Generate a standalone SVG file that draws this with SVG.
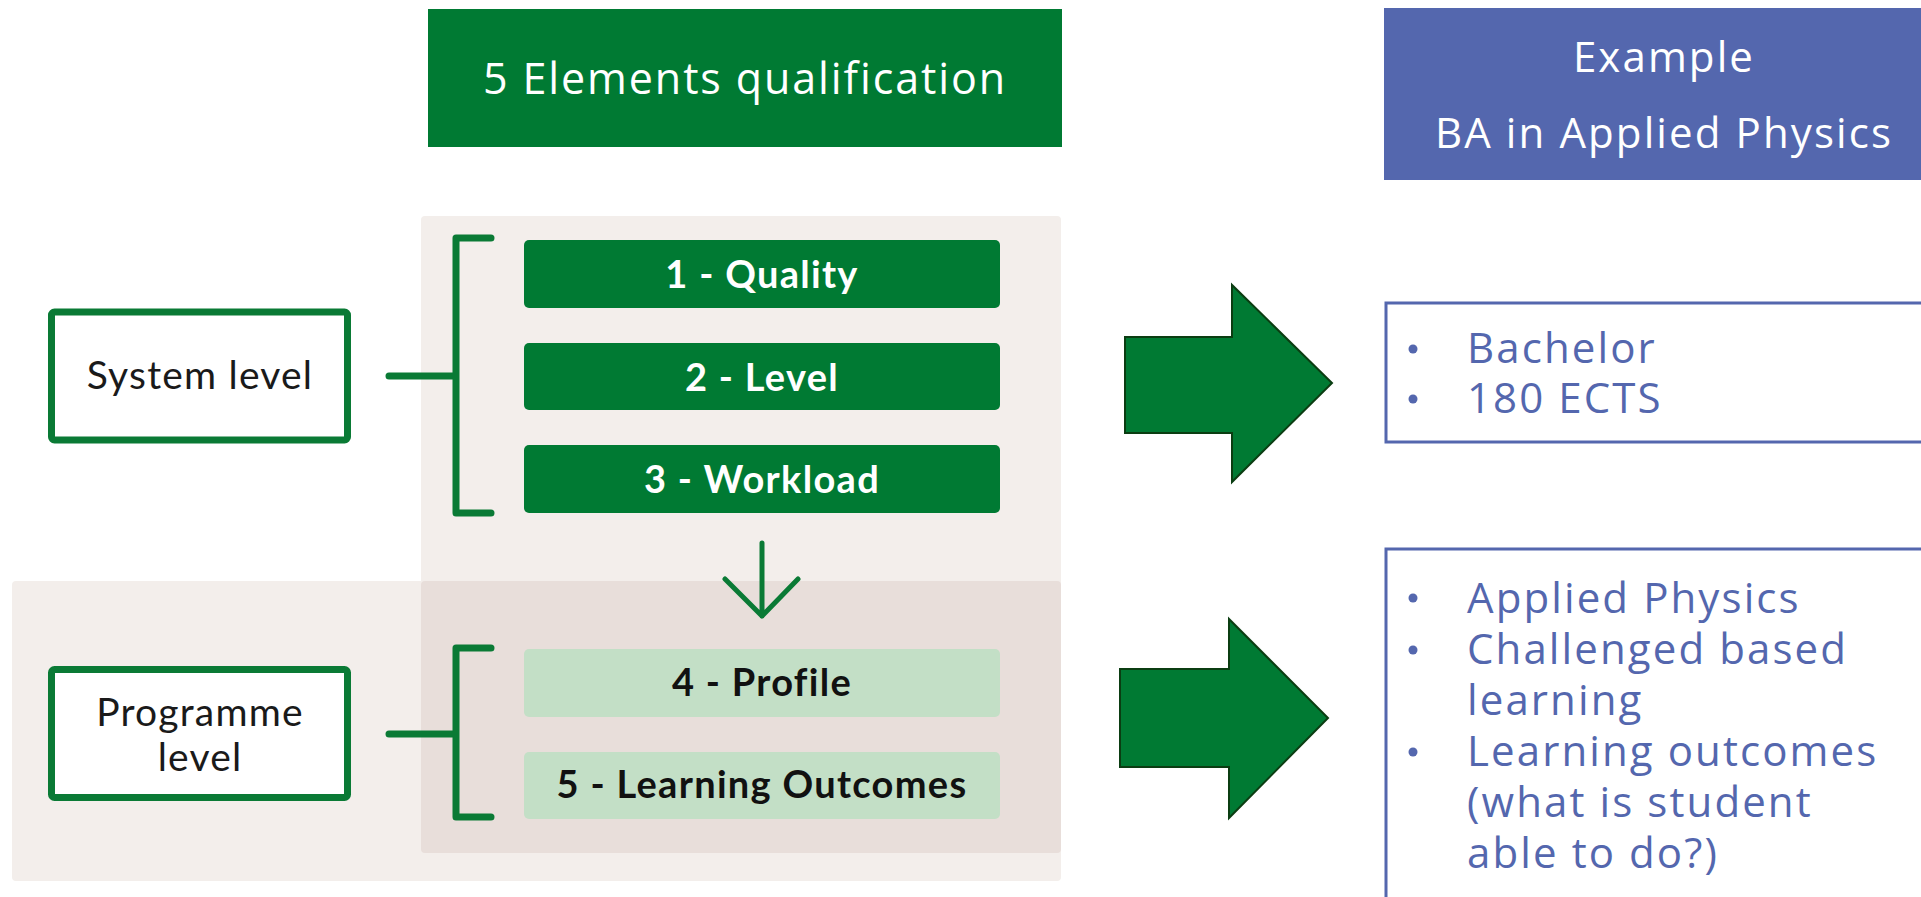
<svg xmlns="http://www.w3.org/2000/svg" width="1921" height="897" viewBox="0 0 1921 897">
  <style>
    .t { font-family: Lato, "Open Sans", "Liberation Sans", sans-serif; }
    .o { font-family: "Open Sans", Lato, "Liberation Sans", sans-serif; }
    .title { fill: #ffffff; font-size: 43px; text-anchor: middle; letter-spacing: 1.9px; }
    .dk { fill: #007A33; }
    .lt { fill: #C3DFC6; }
    .blab { font-size: 38px; font-weight: bold; text-anchor: middle; letter-spacing: 1.3px; }
    .lvl { fill: #1a1a1a; font-size: 39px; text-anchor: middle; letter-spacing: 1.2px; }
    .lvlbox { fill: #ffffff; stroke: #0A7A35; stroke-width: 7; }
    .brk { fill: none; stroke: #0A7A35; stroke-width: 7; stroke-linecap: round; stroke-linejoin: round; }
    .hd { fill: #ffffff; font-size: 42px; text-anchor: middle; letter-spacing: 2.1px; }
    .ex { fill: #5467AE; font-size: 42px; letter-spacing: 2.1px; }
    .exbox { fill: #ffffff; stroke: #5467AE; stroke-width: 3; }
    .bul { fill: #5467AE; }
    .garrow { fill: #007A33; stroke: #0b3d12; stroke-width: 2; }
  </style>

  <!-- background panels -->
  <g id="panels">
    <rect x="421" y="216" width="640" height="637" rx="4" fill="#F3EEEB"/>
    <rect x="12" y="581" width="1049" height="300" rx="4" fill="#F3EEEB"/>
    <rect x="421" y="581" width="640" height="272" rx="4" fill="#E8DEDA"/>
  </g>

  <g id="title">
    <rect x="428" y="9" width="634" height="138" class="dk"/>
    <text x="745" y="94" class="o title">5 Elements qualification</text>
  </g>

  <g id="example-header">
    <rect x="1384" y="8" width="537" height="172" fill="#5467AE"/>
    <text x="1664" y="72" class="o hd">Example</text>
    <text x="1664" y="148" class="o hd">BA in Applied Physics</text>
  </g>

  <g id="system-level">
    <rect x="51.5" y="312" width="296" height="128" rx="3" class="lvlbox"/>
    <text x="200" y="389" class="t lvl">System level</text>
  </g>

  <g id="programme-level">
    <rect x="51.5" y="669.5" width="296" height="128" rx="3" class="lvlbox"/>
    <text x="200" y="726" class="t lvl">Programme</text>
    <text x="200" y="771" class="t lvl">level</text>
  </g>

  <g id="q1">
    <rect x="524" y="240" width="476" height="68" rx="5" class="dk"/>
    <text x="762" y="288" class="t blab" fill="#ffffff">1 - Quality</text>
  </g>
  <g id="q2">
    <rect x="524" y="343" width="476" height="67" rx="5" class="dk"/>
    <text x="762" y="391" class="t blab" fill="#ffffff">2 - Level</text>
  </g>
  <g id="q3">
    <rect x="524" y="445" width="476" height="68" rx="5" class="dk"/>
    <text x="762" y="493" class="t blab" fill="#ffffff">3 - Workload</text>
  </g>
  <g id="q4">
    <rect x="524" y="649" width="476" height="68" rx="5" class="lt"/>
    <text x="762" y="696" class="t blab" fill="#111111">4 - Profile</text>
  </g>
  <g id="q5">
    <rect x="524" y="752" width="476" height="67" rx="5" class="lt"/>
    <text x="762" y="798" class="t blab" fill="#111111">5 - Learning Outcomes</text>
  </g>

  <g id="example-system">
    <rect x="1386" y="303" width="540" height="139" class="exbox"/>
    <circle cx="1413" cy="349" r="4.5" class="bul"/>
    <circle cx="1413" cy="399" r="4.5" class="bul"/>
    <text x="1467" y="363" class="o ex">Bachelor</text>
    <text x="1467" y="413" class="o ex">180 ECTS</text>
  </g>

  <g id="example-programme">
    <rect x="1386" y="549" width="540" height="360" class="exbox"/>
    <circle cx="1413" cy="598" r="4.5" class="bul"/>
    <circle cx="1413" cy="650" r="4.5" class="bul"/>
    <circle cx="1413" cy="752" r="4.5" class="bul"/>
    <text x="1467" y="613" class="o ex">Applied Physics</text>
    <text x="1467" y="664" class="o ex">Challenged based</text>
    <text x="1467" y="715" class="o ex">learning</text>
    <text x="1467" y="766" class="o ex">Learning outcomes</text>
    <text x="1467" y="817" class="o ex">(what is student</text>
    <text x="1467" y="868" class="o ex">able to do?)</text>
  </g>

  <g id="connectors">
    <path class="brk" d="M491 238 H456 V513 H491 M389 376 H456"/>
    <path class="brk" d="M491 648 H456 V817 H491 M389 734 H456"/>
    <path fill="none" stroke="#0A7A35" stroke-width="5" stroke-linecap="round" stroke-linejoin="round" d="M762 543 V616 M725 579 L762 616 L798 579"/>
    <polygon class="garrow" points="1125,337 1232,337 1232,285 1332,383 1232,482 1232,433 1125,433"/>
    <polygon class="garrow" points="1120,669 1229,669 1229,619 1328,718 1229,818 1229,767 1120,767"/>
  </g>
</svg>
